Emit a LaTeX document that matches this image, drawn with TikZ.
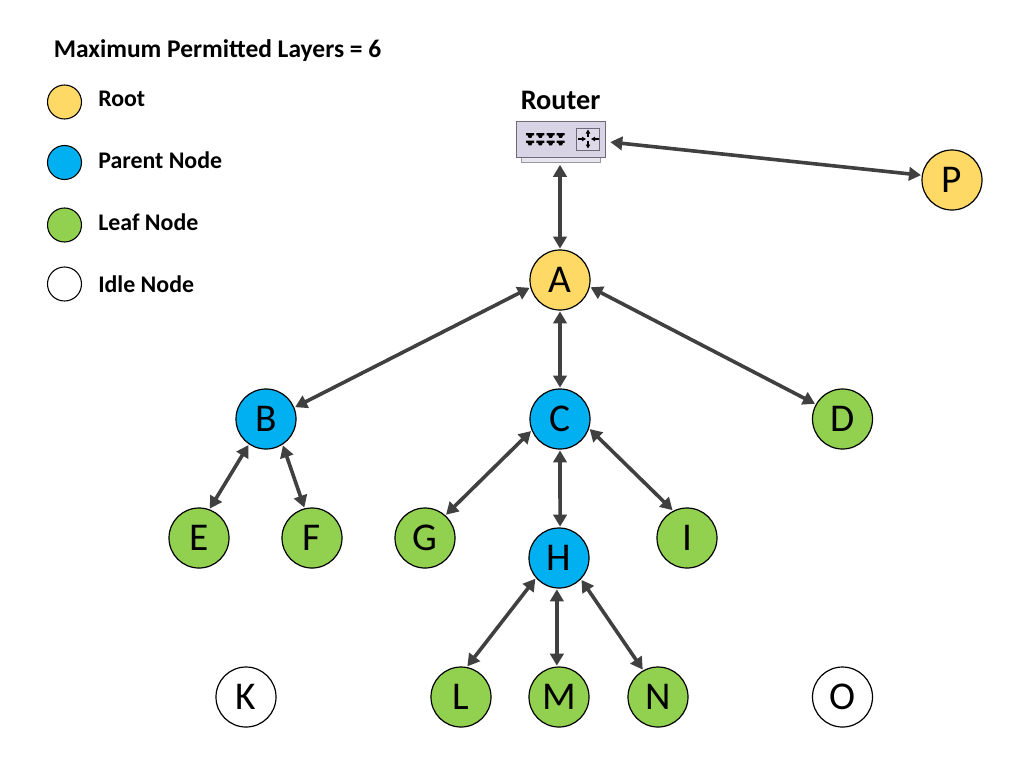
\documentclass[tikz,border=0pt]{standalone}
\usepackage{fontspec}
\setmainfont{Carlito}
\usetikzlibrary{arrows.meta}
\definecolor{rootc}{HTML}{FFD966}
\definecolor{parentc}{HTML}{00B0F0}
\definecolor{leafc}{HTML}{92D050}
\definecolor{linkc}{HTML}{404040}
\definecolor{routerc}{HTML}{D9D3E6}
\definecolor{routere}{HTML}{6E6A78}
\tikzset{
  mesh/.style={circle,draw=black,line width=0.9pt,minimum size=45pt,inner sep=0pt,font=\fontsize{29.5}{32}\selectfont,text=black},
  rootn/.style={mesh,fill=rootc},
  parentn/.style={mesh,fill=parentc},
  leafn/.style={mesh,fill=leafc},
  idlen/.style={mesh,fill=white},
  legdot/.style={circle,draw=black,line width=0.8pt,minimum size=25.5pt,inner sep=0pt},
  legtext/.style={anchor=base west,inner sep=0pt,font=\fontsize{17.9}{20}\selectfont\bfseries},
  link/.style={draw=linkc,line width=2.7pt,{Triangle[length=9pt,width=10pt]}-{Triangle[length=9pt,width=10pt]},shorten <=0.6pt,shorten >=0.6pt},
  port/.style={fill=black,draw=none},
  mini/.style={draw=black,line width=0.8pt,-{Triangle[length=3pt,width=3.2pt]}}
}
\begin{document}
\begin{tikzpicture}[x=0.75pt,y=-0.75pt]
\useasboundingbox (0,0) rectangle (1024,776);
\fill[white] (0,0) rectangle (1024,776);
% title and legend
\node[anchor=base west,inner sep=0pt,font=\fontsize{19.1}{22}\selectfont\bfseries] (title) at (53.5,57) {Maximum Permitted Layers = 6};
\node[legdot,fill=rootc] (l1) at (64.5,102) {};
\node[legdot,fill=parentc] (l2) at (64.5,162.5) {};
\node[legdot,fill=leafc] (l3) at (64.5,225) {};
\node[legdot,fill=white] (l4) at (64.5,284) {};
\node[legtext] (t1) at (98,106) {Root};
\node[legtext] (t2) at (98,168.5) {Parent Node};
\node[legtext] (t3) at (98,230.5) {Leaf Node};
\node[legtext] (t4) at (98,292) {Idle Node};
% router
\node[anchor=base,font=\fontsize{21.2}{24}\selectfont\bfseries,inner sep=0pt] (rlabel) at (560.5,109) {Router};
\fill[routerc!60!white,draw=routere!70!white,line width=0.4pt] (521,157) rectangle (600,162);
\node[draw=routere,fill=routerc,line width=0.7pt,minimum width=66.75pt,minimum height=27pt,inner sep=0pt] (router) at (560.5,139) {};
\foreach \xx in {526,536.3,546.6,556.6}{
  \foreach \yy in {133,140.5}{
    \fill[port] (\xx,\yy) -- ++(8,0) -- ++(0,2.4) -- ++(-1.6,0) -- ++(-1,2.4) -- ++(-2.8,0) -- ++(-1,-2.4) -- ++(-1.6,0) -- cycle;
  }
}
\draw[draw=routere,fill=routerc!85!white,line width=0.7pt] (576,128) rectangle (599,150);
\draw[mini] (578,139) -- (586,139);
\draw[mini] (599,139) -- (591,139);
\draw[mini] (588,137) -- (588,129.5);
\draw[mini] (588,141) -- (588,148.5);
% nodes
\node[rootn] (A) at (560,280) {A};
\node[rootn] (P) at (952,180) {P};
\node[parentn] (B) at (266,419) {B};
\node[parentn] (C) at (560,419) {C};
\node[leafn] (D) at (842.5,419) {D};
\node[leafn] (E) at (199,538) {E};
\node[leafn] (F) at (312,538) {F};
\node[leafn] (G) at (425,538) {G};
\node[parentn] (H) at (559,558) {H};
\node[leafn] (I) at (687,538) {I};
\node[idlen] (K) at (246,697) {K};
\node[leafn] (L) at (461,697) {L};
\node[leafn] (M) at (559,697) {M};
\node[leafn] (N) at (658,697) {N};
\node[idlen] (O) at (842.5,697) {O};
% connectors
\coordinate (routerbottom) at (560,164);
\coordinate (routerright) at (609.5,142);
\draw[link] (routerbottom) -- (A.north);
\draw[link] (routerright) -- (P.171);
\draw[link] (A.194) -- (B.22.5);
\draw[link] (A.south) -- (C.north);
\draw[link] (A.-13) -- (D.151);
\draw[link] (B.236) -- (E.70);
\draw[link] (B.-57) -- (F.104);
\draw[link] (C.202.5) -- (G.48);
\draw[link] (C.south) -- (H.88);
\draw[link] (C.-18) -- (I.117);
\draw[link] (H.221) -- (L.79);
\draw[link] (H.-94) -- (M.94);
\draw[link] (H.-44) -- (N.119);
\end{tikzpicture}
\end{document}
